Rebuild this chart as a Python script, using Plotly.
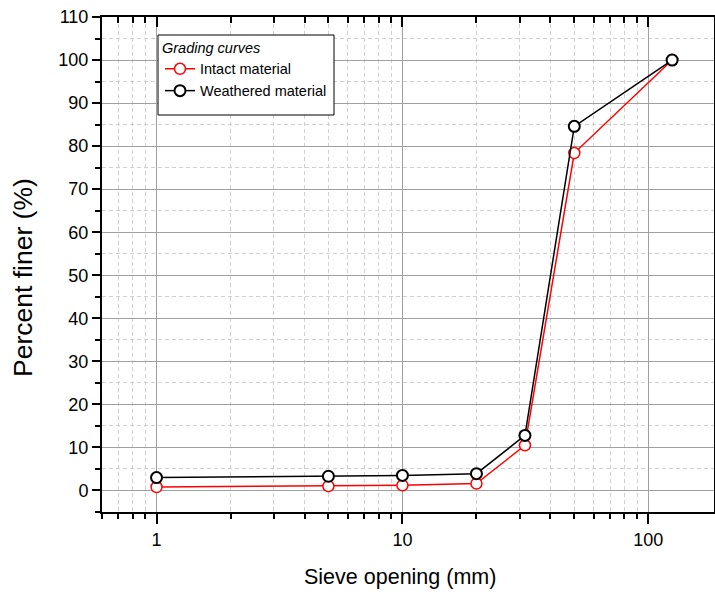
import math
import plotly.graph_objects as go

# Data
sieve_mm = [1, 5, 10, 20, 31.5, 50, 125]
intact = [0.8, 1.0, 1.2, 1.6, 10.5, 78.4, 100]
weathered = [3.0, 3.3, 3.5, 3.9, 12.8, 84.6, 100]

x_major = [1, 10, 100]
x_minor = [0.6, 0.7, 0.8, 0.9] + [2, 3, 4, 5, 6, 7, 8, 9] + [20, 30, 40, 50, 60, 70, 80, 90] + [200]
y_major = list(range(0, 111, 10))
y_minor = [v for v in range(-5, 111, 5) if v % 10 != 0]

x_title = "Sieve opening (mm)"
y_title = "Percent finer (%)"
legend_title = "Grading curves"

FONT = "Arial, Liberation Sans, sans-serif"
xr = [math.log10(0.6), math.log10(185)]
yr = [-5, 110]

W, H = 715, 597
ML, MR, MT, MB = 102, 1, 17, 85
PW, PH = W - ML - MR, H - MT - MB


def px_to_paper_x(px):
    return (px - ML) / PW


def px_to_paper_y(py):
    return (H - MB - py) / PH


fig = go.Figure()
fig.add_trace(go.Scatter(
    x=sieve_mm, y=intact, name="Intact material", mode="lines+markers",
    line=dict(color="#ff0000", width=1.5),
    marker=dict(symbol="circle", size=11, color="white", line=dict(color="#ff0000", width=1.5)),
))
fig.add_trace(go.Scatter(
    x=sieve_mm, y=weathered, name="Weathered material", mode="lines+markers",
    line=dict(color="black", width=1.5),
    marker=dict(symbol="circle", size=11, color="white", line=dict(color="black", width=2)),
))
# invisible helper trace for top/right mirror axes
fig.add_trace(go.Scatter(x=sieve_mm, y=weathered, xaxis="x2", yaxis="y2", mode="markers",
                         marker=dict(opacity=0), showlegend=False, hoverinfo="skip"))

grid_major = "#a0a0a0"
grid_minor = "#d0d0d0"
DASH = "4px,3px"

# legend frame
fig.add_shape(type="rect", xref="paper", yref="paper",
              x0=px_to_paper_x(158), x1=px_to_paper_x(334),
              y0=px_to_paper_y(115), y1=px_to_paper_y(35),
              line=dict(color="black", width=1), fillcolor="white", layer="above")

# axis titles
fig.add_annotation(text=x_title, xref="paper", yref="paper",
                   x=px_to_paper_x(400), y=px_to_paper_y(577), xanchor="center", yanchor="middle",
                   showarrow=False, font=dict(family=FONT, size=21.5, color="black"))
fig.add_annotation(text=y_title, xref="paper", yref="paper",
                   x=px_to_paper_x(23), y=px_to_paper_y(277), xanchor="center", yanchor="middle",
                   textangle=-90, showarrow=False, font=dict(family=FONT, size=26.5, color="black"))

fig.update_layout(
    width=W, height=H,
    margin=dict(l=ML, r=MR, t=MT, b=MB, autoexpand=False),
    paper_bgcolor="white", plot_bgcolor="white",
    font=dict(family=FONT, color="black"),
    showlegend=True,
    legend=dict(
        x=px_to_paper_x(160), y=px_to_paper_y(34), xanchor="left", yanchor="top",
        borderwidth=0, bgcolor="rgba(0,0,0,0)",
        font=dict(family=FONT, size=14.5, color="black"),
        title=dict(text=legend_title, font=dict(family=FONT, size=14.5, color="black", style="italic")),
        tracegroupgap=0, itemwidth=30,
    ),
    xaxis=dict(
        type="log", range=xr, automargin=False,
        tickvals=x_major, ticktext=[str(v) for v in x_major],
        ticks="outside", ticklen=10, tickwidth=1.5, tickcolor="black",
        tickfont=dict(family=FONT, size=18, color="black"),
        showline=True, linecolor="black", linewidth=2,
        showgrid=True, gridcolor=grid_major, gridwidth=1,
        minor=dict(tickvals=x_minor, ticks="outside", ticklen=5, tickwidth=1.5, tickcolor="black",
                   showgrid=True, gridcolor=grid_minor, griddash=DASH, gridwidth=1),
        zeroline=False,
    ),
    xaxis2=dict(
        type="log", range=xr, overlaying="x", side="top", anchor="y2", automargin=False,
        tickvals=x_major, showticklabels=False,
        ticks="inside", ticklen=10, tickwidth=1.5, tickcolor="black",
        showline=True, linecolor="black", linewidth=2, showgrid=False,
        minor=dict(tickvals=x_minor, ticks="inside", ticklen=6, tickwidth=1.5, tickcolor="black", showgrid=False),
        zeroline=False,
    ),
    yaxis=dict(
        range=yr, tickvals=y_major, automargin=False,
        ticks="outside", ticklen=8, tickwidth=1.5, tickcolor="black",
        tickfont=dict(family=FONT, size=18, color="black"),
        showline=True, linecolor="black", linewidth=2,
        showgrid=True, gridcolor=grid_major, gridwidth=1,
        minor=dict(tickvals=y_minor, ticks="outside", ticklen=5, tickwidth=1.5, tickcolor="black",
                   showgrid=True, gridcolor=grid_minor, griddash=DASH, gridwidth=1),
        zeroline=False,
    ),
    yaxis2=dict(
        range=yr, overlaying="y", side="right", anchor="x2", automargin=False,
        tickvals=y_major, showticklabels=False,
        ticks="outside", ticklen=8, tickwidth=1.5, tickcolor="black",
        showline=True, linecolor="black", linewidth=2, showgrid=False,
        minor=dict(tickvals=y_minor, ticks="outside", ticklen=5, tickwidth=1.5, tickcolor="black", showgrid=False),
        zeroline=False,
    ),
)

fig.write_html("out.html")
